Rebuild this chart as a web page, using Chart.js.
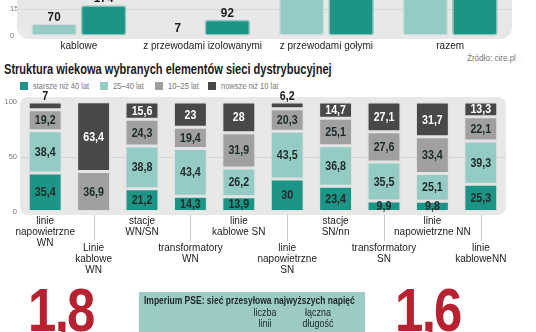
<!DOCTYPE html>
<html>
<head>
<meta charset="utf-8">
<script src="https://cdn.jsdelivr.net/npm/chart.js@4.4.1/dist/chart.umd.min.js"></script>
<style>
    body { margin: 0; width: 536px; height: 332px; overflow: hidden; background: #fff; position: relative; font-family: "Liberation Sans", Arial, sans-serif; }
    .box { position: absolute; }
    #network-box { left: 0; top: -128px; width: 536px; height: 180px; }
    #age-box { left: 0; top: 88px; width: 536px; height: 190px; }
    /* no narrow face is installed, so condensed text is squeezed horizontally */
    .narrow { display: inline-block; transform: scaleX(0.85); transform-origin: left center; white-space: nowrap; }
    .source { position: absolute; left: 467px; top: 52px; font-size: 9.5px; color: #777; }
    .title { position: absolute; left: 4px; top: 61px; font-weight: bold; font-size: 14px; color: #1a1a1a; }
    .title.narrow { transform: scaleX(0.79); }
    .legend-item { position: absolute; top: 81px; font-size: 8.5px; color: #777; white-space: nowrap; line-height: 10px; }
    .legend-item i { display: inline-block; width: 8px; height: 8px; margin-right: 5px; vertical-align: -1px; }
    .legend-item span { transform: scaleX(0.88); }
    .big { position: absolute; top: 280px; font: bold 62px/60px "Liberation Sans", sans-serif; color: #b72130; letter-spacing: -2px; }
    .big.narrow { transform: scaleX(0.82); }
    .pse { position: absolute; left: 139px; top: 292px; width: 226px; height: 50px; background: #9ccbc6; color: #1d2626; }
    .pse-title { position: absolute; left: 5px; top: 3px; font-weight: bold; font-size: 10px; }
    .pse-col { position: absolute; top: 15px; width: 60px; margin-left: -30px; text-align: center; font-size: 10.5px; line-height: 11px; transform: scaleX(0.85); }
</style>
</head>
<body>

<div class="box" id="network-box"><canvas id="network-chart"></canvas></div>
<div class="source narrow">Źródło: cire.pl</div>

<div class="title narrow">Struktura wiekowa wybranych elementów sieci dystrybucyjnej</div>
<div id="age-legend"></div>
<div class="box" id="age-box"><canvas id="age-chart"></canvas></div>

<div class="big narrow" style="left: 28px">1,8</div>
<div class="pse">
    <div class="pse-title narrow">Imperium PSE: sieć przesyłowa najwyższych napięć</div>
    <div class="pse-col" style="left: 126px">liczba<br>linii</div>
    <div class="pse-col" style="left: 179px">łączna<br>długość</div>
</div>
<div class="big narrow" style="left: 395px">1,6</div>

<script>
// Network length by line type (upper part runs off the top of the page)
const lineTypes = ['kablowe', 'z przewodami izolowanymi', 'z przewodami gołymi', 'razem'];
const lengthsLight = [70, 7, 560, 637];
const lengthsDark = [174, 92, 610, 876];

// Age structure of distribution network elements, in %
const elementLabels = [
    ['linie', 'napowietrzne', 'WN'],
    ['Linie', 'kablowe', 'WN'],
    ['stacje', 'WN/SN'],
    ['transformatory', 'WN'],
    ['linie', 'kablowe SN'],
    ['linie', 'napowietrzne', 'SN'],
    ['stacje', 'SN/nn'],
    ['transformatory', 'SN'],
    ['linie', 'napowietrzne NN'],
    ['linie', 'kabloweNN']
];
const ageGroups = ['starsze niż 40 lat', '25–40 lat', '10–25 lat', 'nowsze niż 10 lat'];
const olderThan40 = [35.4, 0, 21.2, 14.3, 13.9, 30, 23.4, 9.9, 9.8, 25.3];
const age25to40 = [38.4, 0, 38.8, 43.4, 26.2, 43.5, 36.8, 35.5, 25.1, 39.3];
const age10to25 = [19.2, 36.9, 24.3, 19.4, 31.9, 20.3, 25.1, 27.6, 33.4, 22.1];
const newerThan10 = [7, 63.4, 15.6, 23, 28, 6.2, 14.7, 27.1, 31.7, 13.3];
const ageTicks = [0, 50, 100];

const TEAL = '#1c9486';
const LIGHT_TEAL = '#95cbc5';
const GRAY = '#a0a0a0';
const DARK = '#484849';
const PANEL = '#e8e8e8';

/**
 * Rounded grey panel behind the plot area.
 */
const panelBackground = {
    id: 'panelBackground',
    beforeDraw(chart, args, opts) {
        const {ctx, chartArea: a} = chart;
        ctx.save();
        ctx.fillStyle = opts.color;
        ctx.beginPath();
        ctx.roundRect(a.left + opts.left, a.top + opts.top,
            a.right - a.left + opts.right - opts.left,
            a.bottom - a.top + opts.bottom - opts.top, opts.radius);
        ctx.fill();
        ctx.restore();
    }
};

/**
 * Writes each bar's value, inside the segment or above it when it is too thin.
 */
const segmentValues = {
    id: 'segmentValues',
    afterDatasetsDraw(chart, args, opts) {
        const {ctx} = chart;
        ctx.save();
        ctx.font = opts.font;
        ctx.textAlign = 'center';
        ctx.textBaseline = 'middle';
        chart.data.datasets.forEach((ds, i) => {
            chart.getDatasetMeta(i).data.forEach((bar, j) => {
                const v = ds.data[j];
                if (!v) return;
                const label = String(v).replace('.', ',');
                const outside = Math.abs(bar.base - bar.y) < opts.minHeight;
                const y = outside ? bar.y - opts.offset : (bar.y + bar.base) / 2;
                ctx.fillStyle = outside ? opts.outsideColor : ds.labelColor;
                // squeeze the digits a little, the way a condensed face would
                ctx.save();
                ctx.translate(bar.x, y + 0.5);
                ctx.scale(opts.squeeze, 1);
                ctx.fillText(label, 0, 0);
                ctx.restore();
            });
        });
        ctx.restore();
    }
};

/**
 * Category names in two staggered rows, the lower row hung from thin lines.
 */
const staggeredLabels = {
    id: 'staggeredLabels',
    afterDraw(chart, args, opts) {
        const {ctx, chartArea, scales: {x}} = chart;
        ctx.save();
        ctx.font = opts.font;
        ctx.fillStyle = opts.color;
        ctx.strokeStyle = opts.lineColor;
        ctx.lineWidth = 1;
        ctx.textAlign = 'center';
        ctx.textBaseline = 'middle';
        chart.data.labels.forEach((lines, i) => {
            const cx = x.getPixelForValue(i);
            const lower = i % 2 === 1;
            const y0 = chartArea.bottom + (lower ? opts.lowerOffset : opts.upperOffset);
            if (lower) {
                const lx = Math.round(cx) + 0.5;
                ctx.beginPath();
                ctx.moveTo(lx, chartArea.bottom + 3);
                ctx.lineTo(lx, y0 - 7);
                ctx.stroke();
            }
            lines.forEach((t, k) => ctx.fillText(t, cx, y0 + k * opts.lineHeight));
        });
        ctx.restore();
    }
};

// legend for the age chart
const legendColors = [TEAL, LIGHT_TEAL, GRAY, DARK];
const legendLeft = [20, 100, 155, 208];
const legendBox = document.getElementById('age-legend');
ageGroups.forEach((name, i) => {
    const item = document.createElement('div');
    item.className = 'legend-item';
    item.style.left = legendLeft[i] + 'px';
    item.innerHTML = '<i style="background:' + legendColors[i] + '"></i><span class="narrow">' + name + '</span>';
    legendBox.appendChild(item);
});

new Chart(document.getElementById('network-chart').getContext('2d'), {
    type: 'bar',
    data: {
        labels: lineTypes,
        datasets: [{
            data: lengthsLight,
            backgroundColor: LIGHT_TEAL,
            borderColor: '#cfdcda',
            borderWidth: 1.5,
            borderRadius: 3,
            borderSkipped: false,
            categoryPercentage: 0.8,
            barPercentage: 0.92
        }, {
            data: lengthsDark,
            backgroundColor: TEAL,
            borderColor: '#8fc3bd',
            borderWidth: 1.5,
            borderRadius: 3,
            borderSkipped: false,
            categoryPercentage: 0.8,
            barPercentage: 0.92
        }]
    },
    options: {
        responsive: true,
        maintainAspectRatio: false,
        animation: false,
        layout: { padding: { top: 4, left: 10, right: 24 } },
        plugins: {
            legend: { display: false },
            tooltip: { enabled: false },
            panelBackground: { color: PANEL, left: 0, right: 0, top: -10, bottom: 3, radius: [0, 0, 12, 12] },
            segmentValues: {
                font: 'bold 13px "Liberation Sans", sans-serif', squeeze: 0.9,
                minHeight: Infinity, offset: 7, outsideColor: '#1a1a1a'
            }
        },
        scales: {
            x: {
                afterFit: axis => { axis.height = 16; },
                grid: { display: false, drawTicks: false },
                border: { display: false },
                ticks: {
                    color: '#222', padding: 4, maxRotation: 0, minRotation: 0, autoSkip: false,
                    font: { family: 'Liberation Sans', size: 10 }
                }
            },
            y: {
                min: 0,
                max: 900,
                afterFit: axis => { axis.width = 7; },
                grid: { color: ctx => ctx.tick.value === 150 ? '#d6d6d6' : 'transparent', drawTicks: false },
                border: { display: false },
                ticks: { stepSize: 150, crossAlign: 'far', padding: 0, color: '#777', font: { family: 'Liberation Sans', size: 7.5 } }
            }
        }
    },
    plugins: [panelBackground, segmentValues]
});

const ageSeries = [olderThan40, age25to40, age10to25, newerThan10];
const labelColors = ['#1d2a2a', '#1d2a2a', '#1d2a2a', '#ffffff'];

new Chart(document.getElementById('age-chart').getContext('2d'), {
    type: 'bar',
    data: {
        labels: elementLabels,
        datasets: ageSeries.map((values, i) => ({
            label: ageGroups[i],
            data: values,
            backgroundColor: legendColors[i],
            labelColor: labelColors[i],
            borderColor: '#e2e2e2',
            borderWidth: 1.5,
            borderRadius: 2,
            borderSkipped: false,
            barPercentage: 0.7,
            categoryPercentage: 1
        }))
    },
    options: {
        responsive: true,
        maintainAspectRatio: false,
        animation: false,
        layout: { padding: { top: 14, right: 31, bottom: 66, left: 0 } },
        plugins: {
            legend: { display: false },
            tooltip: { enabled: false },
            panelBackground: { color: PANEL, left: -1, right: 1, top: -5, bottom: 3, radius: 8 },
            segmentValues: {
                font: 'bold 13px "Liberation Sans", sans-serif', squeeze: 0.82,
                minHeight: 8, offset: 6, outsideColor: '#1a1a1a'
            },
            staggeredLabels: {
                font: '10px "Liberation Sans", sans-serif',
                color: '#222', lineColor: '#c8c8c8',
                upperOffset: 9, lowerOffset: 36, lineHeight: 11
            }
        },
        scales: {
            x: {
                stacked: true,
                display: false
            },
            y: {
                stacked: true,
                min: 0,
                max: 100,
                afterFit: axis => { axis.width = 21; },
                afterBuildTicks: axis => { axis.ticks = ageTicks.map(v => ({ value: v })); },
                grid: { color: ctx => ctx.tick.value === 50 ? '#d4d4d4' : 'transparent', drawTicks: false },
                border: { display: false },
                ticks: { padding: 4, color: '#777', font: { family: 'Liberation Sans', size: 7.5 } }
            }
        }
    },
    plugins: [panelBackground, segmentValues, staggeredLabels]
});
</script>
</body>
</html>
